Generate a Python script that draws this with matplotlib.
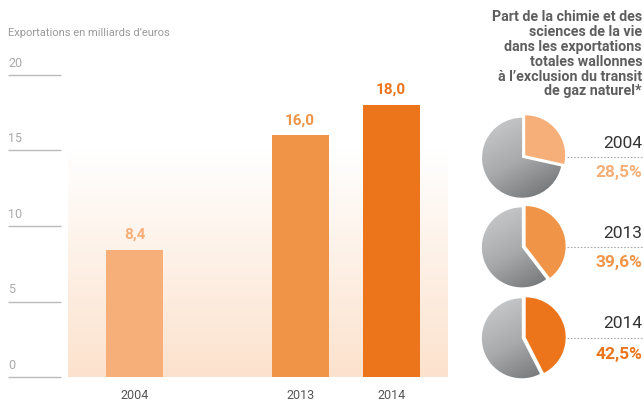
import matplotlib.pyplot as plt
import numpy as np
from matplotlib.colors import LinearSegmentedColormap
from matplotlib.lines import Line2D

plt.rcParams['font.family'] = ['Roboto', 'DejaVu Sans']

W, H = 644, 401

annees = ['2004', '2013', '2014']
exportations = [8.4, 16.0, 18.0]
parts = [28.5, 39.6, 42.5]
graduations = [0, 5, 10, 15, 20]
couleurs = ['#F6AF78', '#F09447', '#EC741B']
pos_x = [0, 1.82, 2.82]


def fx(px):
    return px / W


def fy(py):
    return 1 - py / H


fig = plt.figure(figsize=(W / 100, H / 100), dpi=100)
fig.patch.set_facecolor('white')

# axe des barres
ax = fig.add_axes([fx(8), fy(377), fx(447) - fx(8), fy(75) - fy(377)])
ax.set_xlim(-1.39, 3.434)
ax.set_ylim(0, 20)
ax.axis('off')

# fond en degrade
fond = LinearSegmentedColormap.from_list('fond', ['#FCE2CD', '#FFFFFF'])
grad = np.linspace(0, 1, 256).reshape(-1, 1)
ax.imshow(grad, cmap=fond, origin='lower', aspect='auto',
          extent=(-0.731, 3.434, 0, 15), zorder=0)

ax.bar(pos_x, exportations, width=0.626, color=couleurs, zorder=2)
for x, v, c in zip(pos_x, exportations, couleurs):
    ax.text(x, v + 0.55, f'{v:.1f}'.replace('.', ','), ha='center', va='bottom',
            color=c, fontsize=11, fontweight='bold')

for x, a in zip(pos_x, annees):
    ax.text(x, -1.2, a, ha='center', va='center', color='#555555', fontsize=9)

ax.hlines(graduations, -1.39, -0.808, color='#BBBBBB', linewidth=1, clip_on=False)
for g in graduations:
    ax.text(-1.39, g + 0.35, str(g), ha='left', va='bottom', color='#AAAAAA',
            fontsize=9)

fig.text(fx(8), fy(33), 'Exportations en milliards d\u2019euros', ha='left',
         va='center', color='#999999', fontsize=8)

# titre des camemberts
fig.text(fx(642), fy(10),
         'Part de la chimie et des\nsciences de la vie\ndans les exportations\n'
         'totales wallonnes\n\u00e0 l\u2019exclusion du transit\nde gaz naturel*',
         ha='right', va='top', color='#5E5E5E', fontsize=10.3, fontweight='bold',
         linespacing=1.08)

gris = LinearSegmentedColormap.from_list('gris', ['#D3D5D6', '#A8AAAC', '#5C5F61'])
centres = [157, 247, 338]
for p, a, c, cy in zip(parts, annees, couleurs, centres):
    pax = fig.add_axes([fx(523 - 50), fy(cy + 50), 100 / W, 100 / H])
    pax.axis('off')
    wedges, _ = pax.pie([p, 100 - p], colors=[c, 'none'], startangle=90,
                        counterclock=False, explode=[0.07, 0.03],
                        wedgeprops=dict(linewidth=0))
    pax.set_xlim(-1.25, 1.25)
    pax.set_ylim(-1.25, 1.25)
    pax.set_aspect('equal')
    xx, yy = np.meshgrid(np.linspace(-1.2, 1.2, 200), np.linspace(-1.2, 1.2, 200))
    zz = (xx - yy) * 0.5 + 0.4 * (-yy)
    img = pax.imshow(zz, cmap=gris, origin='lower', extent=(-1.2, 1.2, -1.2, 1.2),
                     zorder=1)
    img.set_clip_path(wedges[1])

    fig.text(fx(642), fy(cy - 14), a, ha='right', va='center', color='#333333',
             fontsize=12.5)
    fig.add_artist(Line2D([fx(567), fx(642)], [fy(cy), fy(cy)], color='#AAAAAA',
                          linewidth=0.8, linestyle=(0, (1.5, 1.5))))
    fig.text(fx(642), fy(cy + 16), f'{p:.1f}%'.replace('.', ','), ha='right',
             va='center', color=c, fontsize=12.5, fontweight='bold')

fig.savefig('out.png', dpi=100)
